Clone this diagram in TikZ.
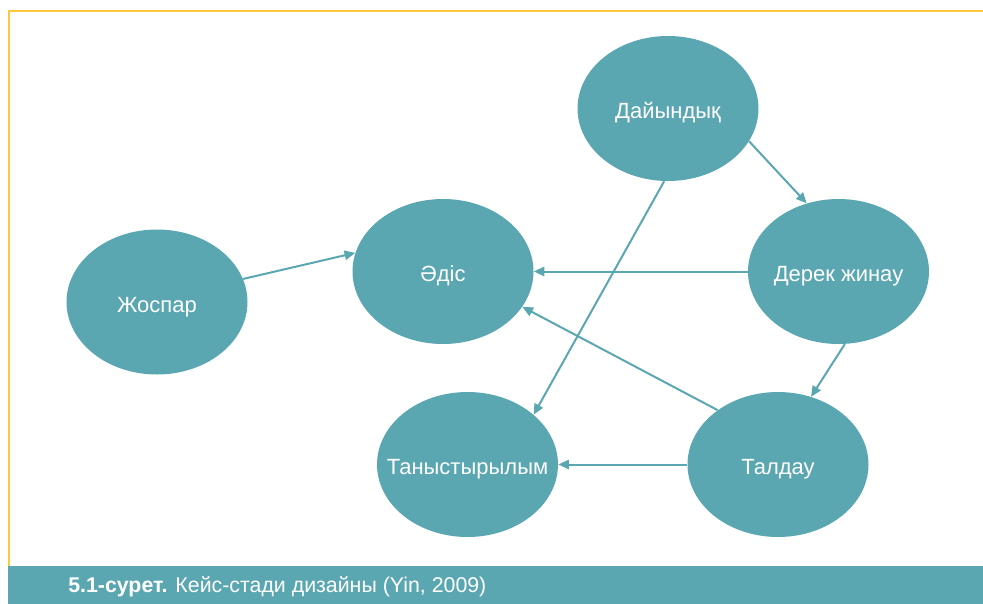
\documentclass[tikz,border=0pt]{standalone}
\usepackage{fontspec}
\setmainfont{Liberation Sans}
\usetikzlibrary{arrows.meta,shapes.geometric}

\definecolor{tealc}{HTML}{5BA7B1}
\definecolor{framey}{HTML}{FFC83D}

\begin{document}
\begin{tikzpicture}[x=0.75pt,y=-0.75pt,
	stage/.style={shape=ellipse,fill=tealc,text=white,inner sep=0pt,text height=15.4pt,text depth=0pt,
		minimum width=135.75pt,minimum height=108.75pt,font=\fontsize{16.5}{19}\selectfont},
	link/.style={-{Triangle[length=8pt,width=7pt]},line width=1.5pt,draw=tealc}]
	\useasboundingbox (0,0) rectangle (983,604);
	
	% frame and caption bar
	\fill[tealc] (8,566) rectangle (983,604);
	\draw[framey,line width=1.4pt] (8.7,566) -- (8.7,10.7) -- (983,10.7);
	\node[anchor=base west,text=white,inner sep=0pt,font=\fontsize{16}{19}\selectfont] (cap) at (68,592)
		{\textbf{5.1-сурет.} Кейс-стади дизайны (Yin, 2009)};
	
	\node[stage] (Dai) at (668,108.5) {\makebox[0pt]{Дайындық}};
	\node[stage] (Der) at (838.5,271.5) {\makebox[0pt]{Дерек жинау}};
	\node[stage] (Adi) at (443,271.5) {\makebox[0pt]{Әдіс}};
	\node[stage] (Zho) at (157,302) {\makebox[0pt]{Жоспар}};
	\node[stage] (Tan) at (467.5,464.5) {\makebox[0pt]{Таныстырылым}};
	\node[stage] (Tal) at (778,464.5) {\makebox[0pt]{Талдау}};
	
	\draw [link] (Zho.15.6) -- (Adi.168.5);
	\draw [link] (Der.west) -- (Adi.east);
	\draw [link] (Dai.-22.9) -- (Der.115.4);
	\draw [link] (Dai.-93) -- (Tan.37);
	\draw [link] (Der.-85) -- (Tal.64);
	\draw [link] (Tal.138.7) -- (Adi.-24);
	\draw [link] (Tal.west) -- (Tan.east);
\end{tikzpicture}
\end{document}
